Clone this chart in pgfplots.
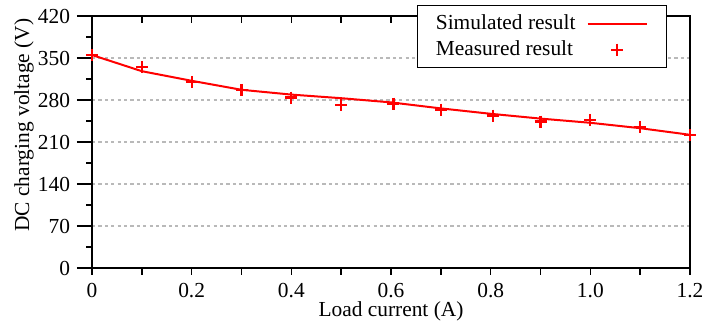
\documentclass[border=0pt]{standalone}
\usepackage{fontspec}
\setmainfont{Liberation Serif}
\usepackage{pgfplots}
\pgfplotsset{compat=1.18}
\begin{document}
\fontsize{10.7}{12.8}\selectfont
\begin{tikzpicture}[font=\fontsize{10.7}{12.8}\selectfont]
\pgfplotsset{
  base/.style={scale only axis, width=299pt, height=126pt,
    xmin=0, xmax=1.2, ymin=0, ymax=420,
    tick style={black, line width=0.8pt}},
}
% bottom x ticks (outside)
\begin{axis}[base, axis line style={draw=none},
  xtick={0,0.1,0.2,0.3,0.4,0.5,0.6,0.7,0.8,0.9,1.0,1.1,1.2}, xticklabels={},
  ytick=\empty, xtick pos=bottom, tick align=outside, major tick length=3.5pt]
\end{axis}
% top x ticks (inside)
\begin{axis}[base, axis line style={draw=none},
  xtick={0,0.1,0.2,0.3,0.4,0.5,0.6,0.7,0.8,0.9,1.0,1.1,1.2}, xticklabels={},
  ytick=\empty, xtick pos=top, tick align=inside, major tick length=3.5pt]
\end{axis}
% main axis
\begin{axis}[base,
  axis line style={black, line width=0.8pt},
  xtick={0,0.2,0.4,0.6,0.8,1.0,1.2},
  xticklabels={0,0.2,0.4,0.6,0.8,1.0,1.2},
  xtick style={draw=none},
  ytick={0,70,140,210,280,350,420},
  minor y tick num=1,
  ytick pos=left, tick align=outside,
  major tick length=7.5pt, minor tick length=3pt,
  /pgf/number format/assume math mode=true,
  ymajorgrids,
  major grid style={gray!55, line width=0.6pt, dash pattern=on 1.6pt off 1.6pt},
  xticklabel style={yshift=3.6pt},
  yticklabel style={xshift=0.3pt},
  xlabel={Load current (A)},
  ylabel={DC charging voltage (V)},
  xlabel style={at={(axis description cs:0.5,-0.173)}, anchor=center},
  ylabel style={at={(axis description cs:-0.1137,0.567)}, anchor=center},
  legend style={at={(rel axis cs:0.9615,1.0437)}, anchor=north east,
    draw=black, line width=0.6pt, fill=white,
    inner xsep=7pt, inner ysep=2.5pt,
    nodes={inner sep=2pt}, row sep=0pt, column sep=3.5pt},
  legend cell align=left,
  legend plot pos=right,
  legend image code/.code={\draw[mark repeat=2, mark phase=2, #1] plot coordinates {(0cm,0cm) (0.52cm,0cm) (1.04cm,0cm)};\path (1.12cm,0cm);},
]
\addplot[red, line width=1pt] coordinates {
(0,355) (0.1,328) (0.2,312) (0.3,297) (0.4,289) (0.5,283) (0.6,276)
(0.7,266) (0.8,257) (0.9,249) (1.0,242) (1.1,233) (1.2,222)
};
\addlegendentry{Simulated result}
\addplot[red, only marks, mark=+, mark size=3pt, line width=1.1pt] coordinates {
(0,355) (0.1,335) (0.2,310) (0.3,297) (0.4,284) (0.5,272) (0.605,274)
(0.7,264) (0.805,254) (0.9,244) (1.0,247) (1.1,235) (1.2,222)
};
\addlegendentry{Measured result}
\coordinate (O) at (rel axis cs:0,0);
\end{axis}
\pgfresetboundingbox
\path ([xshift=-46pt,yshift=-28pt]O) rectangle ([xshift=306pt,yshift=134pt]O);
\end{tikzpicture}
\end{document}
